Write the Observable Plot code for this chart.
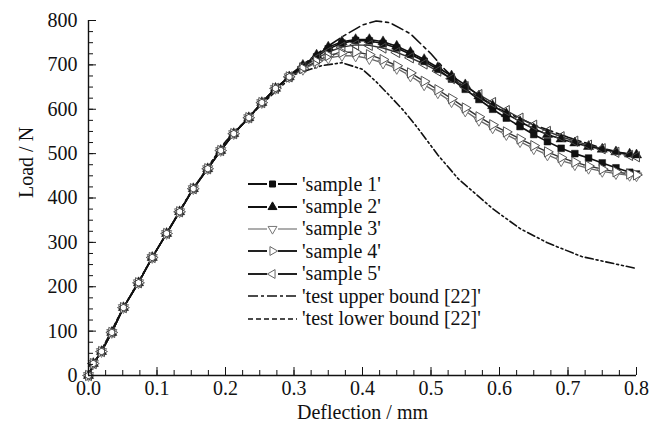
<!DOCTYPE html>
<html><head><meta charset="utf-8">
<script src="https://cdn.jsdelivr.net/npm/d3@7"></script>
<script src="https://cdn.jsdelivr.net/npm/@observablehq/plot@0.6"></script>
<style>
body{margin:0;background:#fff;}
#wrap{position:relative;width:661px;height:428px;font-family:"Liberation Serif","Times New Roman","Tinos","Nimbus Roman","FreeSerif","Noto Serif","DejaVu Serif",serif;}
#legend{position:absolute;left:246px;top:173px;font-size:20px;color:#111;}
#legend .row{height:22.4px;display:flex;align-items:center;white-space:nowrap;}
#legend svg{margin-right:4px;}
</style></head>
<body><div id="wrap"><div id="chart"></div><div id="legend"></div></div>
<script>
// shared rising branch (all samples coincide here)
const riseDefl = [0, 0.007, 0.019, 0.034, 0.051, 0.073, 0.093, 0.114, 0.133, 0.153, 0.174, 0.193, 0.212, 0.234, 0.253, 0.273, 0.293];
const riseLoad = [0, 27, 54, 97, 153, 209, 266, 320, 369, 421, 466, 507, 545, 581, 615, 647, 673];
// post-0.3 deflections for samples
const tailDefl = [0.313, 0.333, 0.35, 0.37, 0.39, 0.41, 0.43, 0.45, 0.47, 0.49, 0.51, 0.53, 0.55, 0.57, 0.59, 0.61, 0.63, 0.65, 0.67, 0.69, 0.71, 0.73, 0.75, 0.77, 0.79, 0.80];
const sample1Tail = [697, 718, 736, 749, 755, 754, 748, 738, 724, 708, 690, 668, 645, 622, 600, 580, 561, 543, 527, 512, 500, 490, 479, 468, 458, 454];
const sample2Tail = [699, 722, 740, 752, 757, 757, 752, 742, 728, 712, 694, 675, 655, 630, 608, 590, 572, 556, 543, 533, 524, 516, 510, 504, 499, 497];
const sample3Tail = [690, 705, 715, 721, 720, 714, 704, 692, 675, 655, 637, 617, 596, 575, 558, 543, 527, 511, 497, 484, 475, 467, 460, 455, 451, 450];
const sample4Tail = [692, 708, 721, 728, 729, 723, 712, 698, 682, 663, 644, 624, 603, 583, 565, 549, 533, 518, 504, 491, 481, 472, 465, 459, 454, 452];
const sample5Tail = [695, 714, 729, 740, 745, 744, 738, 728, 716, 702, 686, 669, 651, 633, 615, 597, 580, 564, 550, 538, 528, 519, 511, 503, 496, 493];
// test bounds [22]
const upperDefl = [0, 0.05, 0.1, 0.15, 0.2, 0.25, 0.3, 0.34, 0.37, 0.40, 0.42, 0.44, 0.47, 0.50, 0.52, 0.55, 0.6, 0.65, 0.7, 0.75, 0.8];
const upperLoad = [0, 150, 284, 415, 527, 608, 685, 732, 763, 790, 799, 795, 770, 725, 690, 645, 600, 565, 537, 512, 494];
const lowerDefl = [0, 0.05, 0.1, 0.15, 0.2, 0.25, 0.3, 0.34, 0.37, 0.40, 0.42, 0.44, 0.46, 0.48, 0.51, 0.54, 0.59, 0.63, 0.67, 0.72, 0.8];
const lowerLoad = [0, 150, 284, 415, 527, 607, 678, 698, 705, 690, 662, 630, 597, 559, 497, 443, 376, 331, 299, 268, 241];
// axes
const xTicks = [0, 0.1, 0.2, 0.3, 0.4, 0.5, 0.6, 0.7, 0.8];
const xTickLabels = ["0.0", "0.1", "0.2", "0.3", "0.4", "0.5", "0.6", "0.7", "0.8"];
const yTicks = [0, 100, 200, 300, 400, 500, 600, 700, 800];
const seriesNames = ["'sample 1'", "'sample 2'", "'sample 3'", "'sample 4'", "'sample 5'", "'test upper bound [22]'", "'test lower bound [22]'"];

const xMinor = d3.range(0, 33).map(i => i * 0.025);
const yMinor = d3.range(0, 33).map(i => i * 25);

function sampleRows(tail) {
  return riseDefl.map((d, i) => ({d, load: riseLoad[i]}))
    .concat(tailDefl.map((d, i) => ({d, load: tail[i]})));
}
const s1 = sampleRows(sample1Tail), s2 = sampleRows(sample2Tail), s3 = sampleRows(sample3Tail),
      s4 = sampleRows(sample4Tail), s5 = sampleRows(sample5Tail);
const up = upperDefl.map((d, i) => ({d, load: upperLoad[i]}));
const lo = lowerDefl.map((d, i) => ({d, load: lowerLoad[i]}));

const dashUpper = "12,4,3,4";
const dashLower = "8,3,2,3,2,3";
const R = 3.8;
const FONT = "'Liberation Serif', 'Times New Roman', Tinos, 'Nimbus Roman', FreeSerif, 'Noto Serif', 'DejaVu Serif', serif";

const chart = Plot.plot({
  width: 661, height: 428,
  marginLeft: 88, marginRight: 25, marginTop: 20, marginBottom: 53,
  x: {domain: [0, 0.8]},
  y: {domain: [0, 800]},
  style: {fontFamily: FONT, fontSize: "20px", background: "white", color: "#111"},
  marks: [
    Plot.line(up, {x: "d", y: "load", stroke: "#111", strokeWidth: 1.6, strokeDasharray: dashUpper}),
    Plot.line(lo, {x: "d", y: "load", stroke: "#111", strokeWidth: 1.6, strokeDasharray: dashLower}),
    Plot.line(s3, {x: "d", y: "load", stroke: "#666", strokeWidth: 1.3}),
    Plot.line(s4, {x: "d", y: "load", stroke: "#333", strokeWidth: 1.4}),
    Plot.line(s5, {x: "d", y: "load", stroke: "#333", strokeWidth: 1.4}),
    Plot.line(s1, {x: "d", y: "load", stroke: "#111", strokeWidth: 1.6}),
    Plot.line(s2, {x: "d", y: "load", stroke: "#111", strokeWidth: 1.6}),
    Plot.dot(s1, {x: "d", y: "load", symbol: "square", r: R, fill: "#111", stroke: "#111", strokeWidth: 0.5}),
    Plot.dot(s2, {x: "d", y: "load", symbol: "triangle", r: R, fill: "#111", stroke: "#111", strokeWidth: 0.5}),
    Plot.dot(s3, {x: "d", y: "load", symbol: "triangle", rotate: 180, r: R, fill: "white", stroke: "#777", strokeWidth: 1}),
    Plot.dot(s4, {x: "d", y: "load", symbol: "triangle", rotate: 90, r: R, fill: "white", stroke: "#555", strokeWidth: 1}),
    Plot.dot(s5, {x: "d", y: "load", symbol: "triangle", rotate: -90, r: R, fill: "none", stroke: "#444", strokeWidth: 1}),
    Plot.ruleY([0], {stroke: "#111", strokeWidth: 1.4}),
    Plot.ruleX([0], {stroke: "#111", strokeWidth: 1.4}),
    Plot.axisX(xMinor, {tickSize: 5, dy: -5, tickFormat: () => "", label: null, stroke: "#111"}),
    Plot.axisX(xTicks, {tickSize: 8, dy: -8, tickFormat: () => "", label: null, stroke: "#111"}),
    Plot.axisY(yMinor, {tickSize: 5, dx: 5, tickFormat: () => "", label: null, stroke: "#111"}),
    Plot.axisY(yTicks, {tickSize: 8, dx: 8, tickFormat: () => "", label: null, stroke: "#111"}),
    Plot.axisX(xTicks, {tickSize: 0, tickPadding: 5, tickFormat: (d, i) => xTickLabels[i], label: null, fontSize: 20, fill: "#111"}),
    Plot.axisY(yTicks, {tickSize: 0, tickPadding: 11, label: null, fontSize: 20, fill: "#111"}),
    Plot.text(["Deflection / mm"], {text: d => d, frameAnchor: "bottom", dy: 43, fontSize: 20, fill: "#111"}),
    Plot.text(["Load / N"], {text: d => d, frameAnchor: "left", dx: -62, rotate: -90, fontSize: 20, fill: "#111"})
  ]
});
document.getElementById("chart").appendChild(chart);

// legend
const legendStyles = [
  {sym: "square", rot: 0, fill: "#111", stroke: "#111", line: "#111", lw: 2, dash: null},
  {sym: "triangle", rot: 0, fill: "#111", stroke: "#111", line: "#111", lw: 2, dash: null},
  {sym: "triangle", rot: 180, fill: "white", stroke: "#777", line: "#777", lw: 1.2, dash: null},
  {sym: "triangle", rot: 90, fill: "white", stroke: "#666", line: "#222", lw: 2, dash: null},
  {sym: "triangle", rot: -90, fill: "white", stroke: "#666", line: "#222", lw: 2, dash: null},
  {sym: null, line: "#111", lw: 1.6, dash: "10,3,3,3"},
  {sym: null, line: "#111", lw: 1.6, dash: "5,3"}
];
const leg = d3.select("#legend");
seriesNames.forEach((name, i) => {
  const st = legendStyles[i];
  const row = leg.append("div").attr("class", "row");
  const svg = row.append("svg").attr("width", 52).attr("height", 14);
  if (st.sym) {
    svg.append("line").attr("x1", 2).attr("x2", 21).attr("y1", 7).attr("y2", 7).attr("stroke", st.line).attr("stroke-width", st.lw);
    svg.append("line").attr("x1", 32).attr("x2", 51).attr("y1", 7).attr("y2", 7).attr("stroke", st.line).attr("stroke-width", st.lw);
    const sym = st.sym === "square" ? d3.symbolSquare : d3.symbolTriangle;
    svg.append("path").attr("d", d3.symbol(sym, st.sym === "square" ? 36 : 34)())
      .attr("transform", `translate(26.5,7) rotate(${st.rot})`)
      .attr("fill", st.fill).attr("stroke", st.stroke).attr("stroke-width", 1);
  } else {
    svg.append("line").attr("x1", 2).attr("x2", 51).attr("y1", 7).attr("y2", 7).attr("stroke", st.line)
      .attr("stroke-width", st.lw).attr("stroke-dasharray", st.dash);
  }
  row.append("span").text(name);
});
</script>
</body></html>
